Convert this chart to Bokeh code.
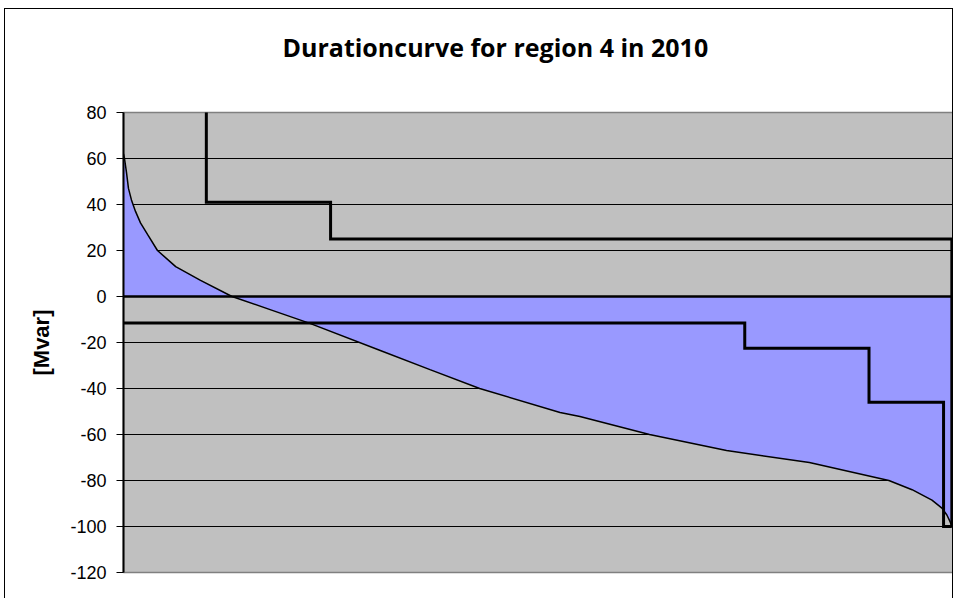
from bokeh.plotting import figure
from bokeh.models import Range1d, FixedTicker, Span, Title
from bokeh.embed import file_html
from bokeh.resources import INLINE

# Duration (percentage of time) and reactive power [Mvar]
duration_pct = [0.0, 0.12, 0.36, 0.6, 0.96, 1.45, 2.05, 2.9, 4.1, 6.3, 9.3, 13.1,
                17.7, 22.5, 31.0, 37.0, 43.0, 52.7, 55.1, 63.5, 72.8, 82.8, 92.4,
                95.2, 97.6, 98.8, 99.4, 99.8, 100.0]
mvar = [62, 60, 54, 47, 42, 37, 32, 27, 20, 13, 7, 0,
        -5.7, -11.7, -23.5, -31.8, -40, -50.4, -52.2, -60, -67, -72.2, -80,
        -84, -88.5, -92, -95, -98, -100]

upper_x = [10, 10, 25, 25, 100, 100]
upper_y = [100, 41, 41, 25, 25, -100]
lower_x = [0, 75, 75, 90, 90, 99, 99, 100]
lower_y = [-11.5, -11.5, -22.5, -22.5, -46, -46, -100, -100]

y_ticks = list(range(-120, 81, 20))
y_tick_labels = {t: str(t) for t in y_ticks}
title_text = "Durationcurve for region 4 in 2010"

p = figure(width=949, height=590, output_backend="svg", toolbar_location=None,
           x_range=Range1d(0, 100.2), y_range=Range1d(-120, 80),
           min_border_left=118, min_border_right=1, min_border_top=103,
           min_border_bottom=27, title=title_text)
p.styles = {"margin-left": "4px", "margin-top": "8px",
            "border-left": "1px solid #000", "border-top": "1px solid #000",
            "border-right": "1px solid #000"}

p.title.text_font = "Open Sans"
p.title.text_font_size = "25px"
p.title.text_font_style = "bold"
p.title.text_color = "black"
p.title.align = "left"
p.title.offset = 159
p.title.vertical_align = "top"
p.title.standoff = 38
# spacer between title and plot area
p.add_layout(Title(text=" ", text_font_size="1px", standoff=25), "above")

p.background_fill_color = "#C0C0C0"
p.border_fill_color = "white"
p.outline_line_color = "#808080"
p.outline_line_width = 1.5

p.xaxis.visible = False
p.xgrid.visible = False
p.ygrid.grid_line_color = "black"
p.ygrid.grid_line_width = 1
p.ygrid.ticker = FixedTicker(ticks=y_ticks)

ya = p.yaxis[0]
ya.ticker = FixedTicker(ticks=y_ticks)
ya.major_label_overrides = y_tick_labels
ya.axis_line_color = "black"
ya.axis_line_width = 2
ya.major_tick_in = 0
ya.major_tick_out = 7
ya.major_tick_line_color = "black"
ya.minor_tick_line_color = None
ya.major_label_text_font = "Liberation Sans"
ya.major_label_text_font_size = "18px"
ya.major_label_text_color = "black"
ya.major_label_standoff = 10
ya.axis_label = "[Mvar]"
ya.axis_label_text_font = "Liberation Sans"
ya.axis_label_text_font_size = "22px"
ya.axis_label_text_font_style = "bold"
ya.axis_label_text_color = "black"
ya.axis_label_standoff = 13

p.varea(x=duration_pct, y1=mvar, y2=0, fill_color="#9999FF")
p.line(duration_pct, mvar, line_color="black", line_width=1.5)
p.add_layout(Span(location=0, dimension="width", line_color="black", line_width=2.5))
p.line(upper_x, upper_y, line_color="black", line_width=3, line_join="miter")
p.line(lower_x, lower_y, line_color="black", line_width=3, line_join="miter")

open("out.html", "w").write(file_html(p, INLINE))
